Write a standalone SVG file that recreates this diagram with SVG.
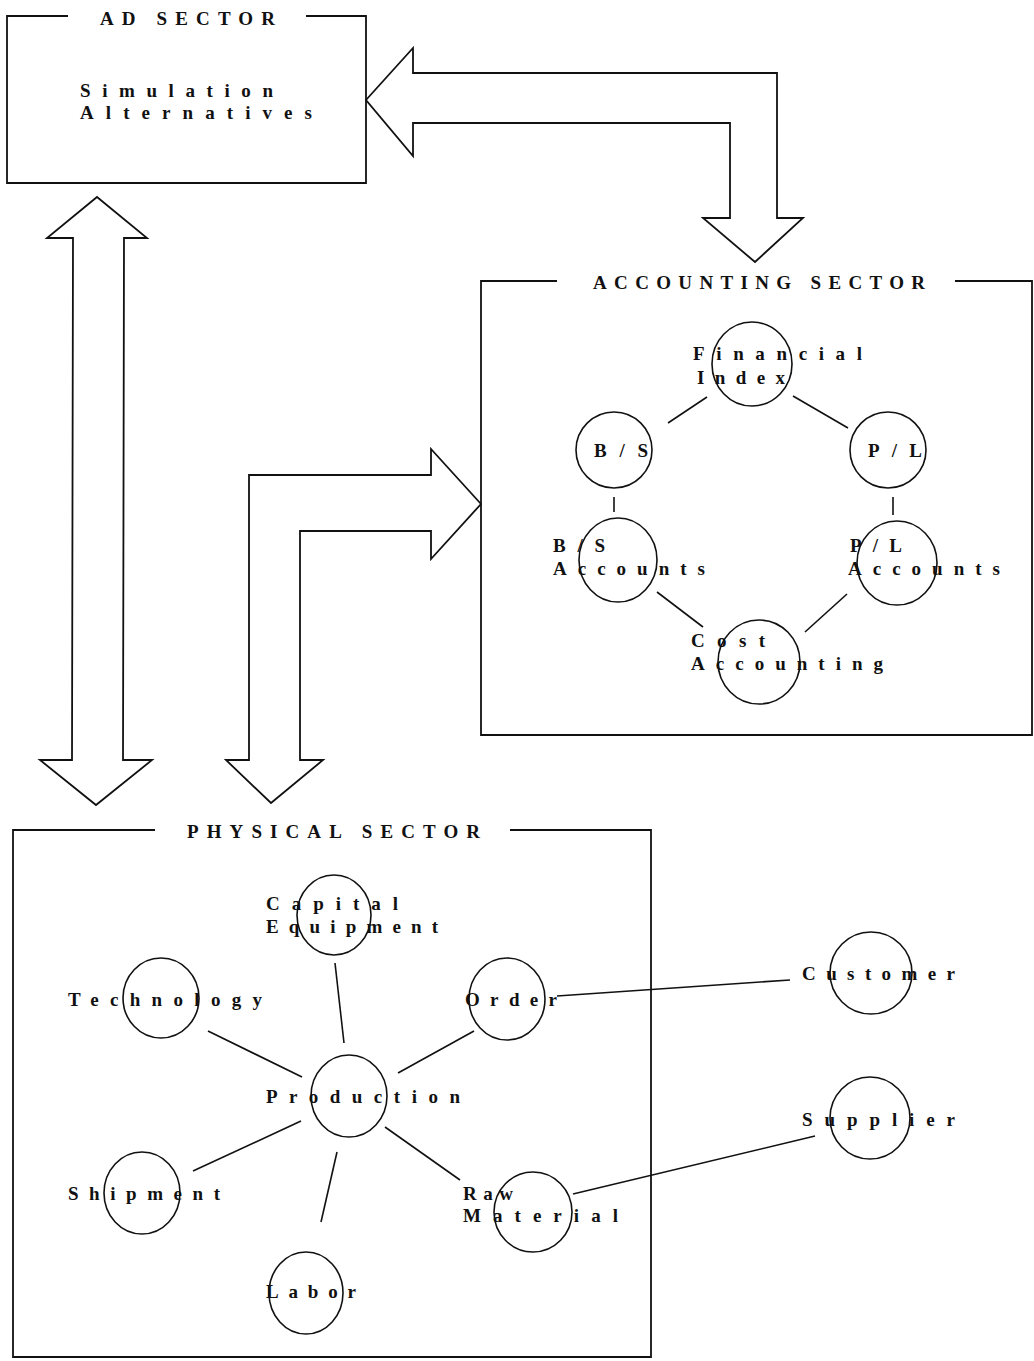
<svg xmlns="http://www.w3.org/2000/svg" width="1034" height="1361" viewBox="0 0 1034 1361">
<style>
  .bg { fill: #ffffff; }
  .box { fill: none; stroke: #111; stroke-width: 1.8; }
  .blk { fill: #ffffff; stroke: #111; stroke-width: 1.8; stroke-linejoin: miter; }
  .node { fill: none; stroke: #111; stroke-width: 1.6; }
  .edge { stroke: #111; stroke-width: 1.6; fill: none; }
  text { font-family: "Liberation Serif", "DejaVu Serif", serif; font-size: 19px; fill: #111; font-weight: bold; }
</style>
<rect class="bg" x="0" y="0" width="1034" height="1361"/>

<g id="connectors">
  <!-- AD <-> Accounting block arrow -->
  <polygon class="blk" points="366,100 413,48 413,73 777,73 777,218 803,218 755,262 703,218 730,218 730,123 413,123 413,156"/>
  <!-- AD <-> Physical double arrow -->
  <polygon class="blk" points="97,197 147,238 124,238 123,760 152,760 96,805 40,760 72,760 73,238 47,238"/>
  <!-- Physical <-> Accounting L-shaped arrow -->
  <polygon class="blk" points="481,504 431,449 431,475 249,475 249,760 226,760 271,803 323,760 300,760 300,531 431,531 431,559"/>
  <!-- accounting edges -->
  <line class="edge" x1="707" y1="397" x2="668" y2="423"/>
  <line class="edge" x1="793" y1="396" x2="848" y2="428"/>
  <line class="edge" x1="614" y1="497" x2="614" y2="512"/>
  <line class="edge" x1="893" y1="497" x2="893" y2="515"/>
  <line class="edge" x1="657" y1="592" x2="703" y2="627"/>
  <line class="edge" x1="847" y1="594" x2="805" y2="632"/>
  <!-- physical edges -->
  <line class="edge" x1="335" y1="963" x2="344" y2="1043"/>
  <line class="edge" x1="208" y1="1031" x2="302" y2="1077"/>
  <line class="edge" x1="474" y1="1031" x2="398" y2="1073"/>
  <line class="edge" x1="193" y1="1171" x2="301" y2="1121"/>
  <line class="edge" x1="337" y1="1152" x2="321" y2="1222"/>
  <line class="edge" x1="385" y1="1127" x2="460" y2="1180"/>
  <line class="edge" x1="557" y1="996" x2="790" y2="980"/>
  <line class="edge" x1="573" y1="1194" x2="815" y2="1136"/>
</g>

<g id="ad-sector">
  <path class="box" d="M68,16 H7 V183 H366 V16 H306"/>
  <text x="100" y="25" textLength="175" lengthAdjust="spacing">AD SECTOR</text>
  <text x="80" y="97" textLength="193" lengthAdjust="spacing">Simulation</text>
  <text x="80" y="119" textLength="232" lengthAdjust="spacing">Alternatives</text>
</g>

<g id="accounting-sector">
  <path class="box" d="M557,281 H481 V735 H1032 V281 H955"/>
  <text x="593" y="289" textLength="332" lengthAdjust="spacing">ACCOUNTING SECTOR</text>
</g>

<g id="node-financial-index">
  <ellipse class="node" cx="752" cy="364" rx="40" ry="42"/>
  <text x="693" y="360" textLength="169" lengthAdjust="spacing">Financial</text>
  <text x="697" y="384" textLength="88" lengthAdjust="spacing">Index</text>
</g>
<g id="node-bs">
  <ellipse class="node" cx="614" cy="450" rx="38" ry="38"/>
  <text x="594" y="457" textLength="54" lengthAdjust="spacing">B/S</text>
</g>
<g id="node-pl">
  <ellipse class="node" cx="888" cy="450" rx="38" ry="38"/>
  <text x="868" y="457" textLength="54" lengthAdjust="spacing">P/L</text>
</g>
<g id="node-bs-accounts">
  <ellipse class="node" cx="618" cy="560" rx="39" ry="42"/>
  <text x="553" y="552" textLength="52" lengthAdjust="spacing">B/S</text>
  <text x="553" y="575" textLength="152" lengthAdjust="spacing">Accounts</text>
</g>
<g id="node-pl-accounts">
  <ellipse class="node" cx="897" cy="563" rx="40" ry="42"/>
  <text x="850" y="552" textLength="52" lengthAdjust="spacing">P/L</text>
  <text x="848" y="575" textLength="152" lengthAdjust="spacing">Accounts</text>
</g>
<g id="node-cost-accounting">
  <ellipse class="node" cx="759" cy="662" rx="41" ry="42"/>
  <text x="691" y="647" textLength="74" lengthAdjust="spacing">Cost</text>
  <text x="691" y="670" textLength="192" lengthAdjust="spacing">Accounting</text>
</g>

<g id="physical-sector">
  <path class="box" d="M155,830 H13 V1357 H651 V830 H510"/>
  <text x="187" y="838" textLength="293" lengthAdjust="spacing">PHYSICAL SECTOR</text>
</g>

<g id="node-capital-equipment">
  <ellipse class="node" cx="334" cy="915" rx="37" ry="40"/>
  <text x="266" y="910" textLength="132" lengthAdjust="spacing">Capital</text>
  <text x="266" y="933" textLength="172" lengthAdjust="spacing">Equipment</text>
</g>
<g id="node-technology">
  <ellipse class="node" cx="161" cy="998" rx="38" ry="40"/>
  <text x="68" y="1006" textLength="194" lengthAdjust="spacing">Technology</text>
</g>
<g id="node-order">
  <ellipse class="node" cx="507" cy="999" rx="38" ry="41"/>
  <text x="465" y="1006" textLength="92" lengthAdjust="spacing">Order</text>
</g>
<g id="node-production">
  <ellipse class="node" cx="349" cy="1096" rx="38" ry="41"/>
  <text x="266" y="1103" textLength="194" lengthAdjust="spacing">Production</text>
</g>
<g id="node-shipment">
  <ellipse class="node" cx="142" cy="1193" rx="38" ry="41"/>
  <text x="68" y="1200" textLength="152" lengthAdjust="spacing">Shipment</text>
</g>
<g id="node-raw-material">
  <ellipse class="node" cx="533" cy="1212" rx="39" ry="40"/>
  <text x="463" y="1200" textLength="50" lengthAdjust="spacing">Raw</text>
  <text x="463" y="1222" textLength="155" lengthAdjust="spacing">Material</text>
</g>
<g id="node-labor">
  <ellipse class="node" cx="306" cy="1293" rx="37" ry="41"/>
  <text x="266" y="1298" textLength="90" lengthAdjust="spacing">Labor</text>
</g>
<g id="node-customer">
  <ellipse class="node" cx="871" cy="973" rx="41" ry="41"/>
  <text x="802" y="980" textLength="153" lengthAdjust="spacing">Customer</text>
</g>
<g id="node-supplier">
  <ellipse class="node" cx="870" cy="1118" rx="40" ry="41"/>
  <text x="802" y="1126" textLength="153" lengthAdjust="spacing">Supplier</text>
</g>
</svg>
